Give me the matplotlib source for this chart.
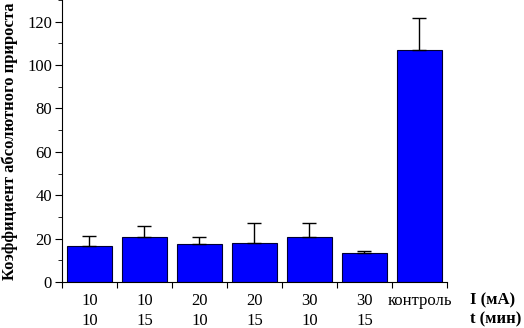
import numpy as np
import matplotlib
matplotlib.use("Agg")
import matplotlib.pyplot as plt
from matplotlib.ticker import MultipleLocator

plt.rcParams['font.family'] = ['Liberation Serif', 'DejaVu Serif']

# current (mA) and time (min) for each group
current_ma = ["10", "10", "20", "20", "30", "30", "контроль"]
time_min = ["10", "15", "10", "15", "10", "15", ""]
values = [16.6, 20.9, 17.4, 18.0, 20.9, 13.2, 107.0]
errors = [4.6, 5.1, 3.5, 9.1, 6.3, 1.3, 14.7]

fig = plt.figure(figsize=(5.24, 3.28), dpi=100)
ax = fig.add_axes([0.118, 0.140, 0.735, 0.860])

x = np.arange(len(values))
ax.bar(x, values, width=0.82, color="#0000ff", edgecolor="#000033", linewidth=0.8,
       yerr=[np.zeros(len(errors)), errors], ecolor="black",
       error_kw=dict(elinewidth=1.0, capsize=5, capthick=1.0))

ax.set_xlim(-0.5, len(values) - 0.5)
ax.set_ylim(0, 130)

ax.spines['top'].set_visible(False)
ax.spines['right'].set_visible(False)

ax.yaxis.set_major_locator(MultipleLocator(20))
ax.yaxis.set_minor_locator(MultipleLocator(10))
ax.tick_params(axis='y', which='major', direction='out', length=5, labelsize=12, pad=2)
ax.tick_params(axis='y', which='minor', direction='out', length=3)

# ticks sit on group boundaries, labels under bars
ax.set_xticks(np.arange(-0.5, len(values), 1.0))
ax.set_xticklabels([])
ax.tick_params(axis='x', which='major', direction='out', length=4)
labels = [a + "\n" + b for a, b in zip(current_ma, time_min)]
ax.set_xticks(x, minor=True)
ax.set_xticklabels(labels, minor=True, fontsize=12, linespacing=1.3)
ax.tick_params(axis='x', which='minor', length=0, pad=8)
for lbl in ax.get_xticklabels(minor=True):
    lbl.set_verticalalignment('top')

ax.set_ylabel("Коэффициент абсолютного прироста", fontsize=12, fontweight='bold', labelpad=7)

fig.text(0.897, 0.085, "I (мА)", fontsize=12, fontweight='bold', ha='left', va='center')
fig.text(0.897, 0.026, "t (мин)", fontsize=12, fontweight='bold', ha='left', va='center')

fig.savefig("out.png", dpi=100)
